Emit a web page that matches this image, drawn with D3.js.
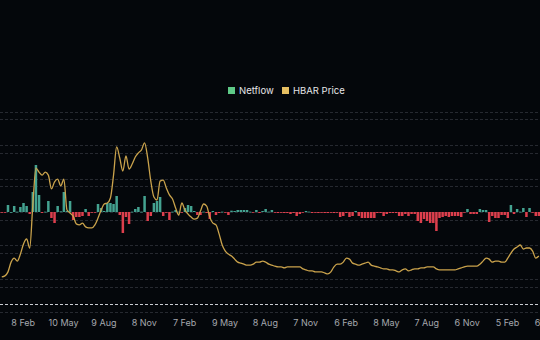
<!DOCTYPE html>
<html>
<head>
<meta charset="utf-8">
<script src="https://cdn.jsdelivr.net/npm/d3@7"></script>
<style>
  html, body { margin: 0; padding: 0; background: #04070b; }
  svg { display: block; }
  text { font-family: Inter, "Noto Sans", sans-serif; }
</style>
</head>
<body>
<svg id="chart" width="540" height="340"></svg>
<script>
// weekly netflow (M HBAR), first week starting 2020-12-20
var firstWeek = "2020-12-20";
var netflow = [
  -2, -1, 21, 0, 18, 1, 15, 27, 18, -6,
  60, 141, 51, -3, 1, 33, -18, -33, 18, 2,
  60, 3, 33, -24, -15, -15, -12, 9, -12, -2,
  -2, 24, 12, 3, 27, 27, 24, 48, -9, -63,
  -15, -36, 1, 9, 15, 1, 48, -27, -12, 27,
  33, 45, -12, -1, -24, 1, 6, 1, -1, 12,
  21, 18, 3, -9, -9, 1, -3, -21, 3, -9,
  -3, 1, -1, -9, 4, 3, 6, 6, 6, 6,
  1, -1, 6, -3, 3, 9, 1, 6, -2, -3,
  -2, -3, -3, -6, -3, -12, -6, -1, 3, 1,
  -3, -2, -3, -2, -3, -3, -2, -3, -2, -15,
  -12, -3, -15, -12, 3, -12, -18, -18, -18, -18,
  -18, -3, -3, -12, -6, -3, -3, -3, -12, -12,
  -6, -12, -6, -6, -27, -33, -21, -27, -33, -33,
  -57, -18, -15, -12, -15, -12, -12, -12, -15, -1,
  9, -6, -6, -6, 9, 6, 6, -30, -12, -18,
  -18, -9, -9, -18, 21, -6, 9, 1, 12, -15,
  12, -1, -12, -12
];
// HBAR price (USD), same weeks
var price = [
  0.030, 0.033, 0.045, 0.074, 0.086, 0.077, 0.098, 0.128, 0.143, 0.116,
  0.244, 0.354, 0.342, 0.333, 0.342, 0.333, 0.292, 0.313, 0.321, 0.301,
  0.321, 0.229, 0.220, 0.211, 0.188, 0.185, 0.190, 0.179, 0.176, 0.176,
  0.185, 0.205, 0.229, 0.247, 0.250, 0.265, 0.333, 0.417, 0.384, 0.345,
  0.390, 0.351, 0.366, 0.387, 0.399, 0.408, 0.429, 0.384, 0.315, 0.268,
  0.259, 0.315, 0.318, 0.295, 0.274, 0.262, 0.235, 0.214, 0.250, 0.229,
  0.217, 0.208, 0.202, 0.205, 0.226, 0.247, 0.241, 0.208, 0.190, 0.185,
  0.158, 0.125, 0.107, 0.098, 0.092, 0.083, 0.074, 0.071, 0.068, 0.065,
  0.065, 0.068, 0.074, 0.074, 0.077, 0.074, 0.068, 0.065, 0.062, 0.060,
  0.060, 0.057, 0.060, 0.060, 0.060, 0.060, 0.060, 0.054, 0.051, 0.048,
  0.048, 0.045, 0.045, 0.045, 0.042, 0.039, 0.045, 0.060, 0.068, 0.068,
  0.074, 0.086, 0.083, 0.071, 0.068, 0.065, 0.068, 0.071, 0.074, 0.065,
  0.062, 0.060, 0.057, 0.054, 0.054, 0.051, 0.051, 0.048, 0.045, 0.051,
  0.054, 0.048, 0.051, 0.054, 0.054, 0.057, 0.057, 0.060, 0.060, 0.060,
  0.054, 0.051, 0.051, 0.051, 0.051, 0.051, 0.051, 0.054, 0.057, 0.060,
  0.062, 0.062, 0.062, 0.062, 0.068, 0.077, 0.086, 0.083, 0.074, 0.077,
  0.077, 0.074, 0.074, 0.086, 0.101, 0.113, 0.119, 0.125, 0.113, 0.116,
  0.116, 0.107, 0.086, 0.092
];
var tickDates = [
  "2021-02-08", "2021-05-10", "2021-08-09", "2021-11-08", "2022-02-07",
  "2022-05-09", "2022-08-08", "2022-11-07", "2023-02-06", "2023-05-08",
  "2023-08-07", "2023-11-06", "2024-02-05", "2024-05-06"
];
var netflowTicks = [-300, -200, -100, 0, 100, 200, 300];
var priceTicks = [0, 0.1, 0.2, 0.3, 0.4, 0.5];
var seriesNames = ["Netflow", "HBAR Price"];

var weeks = netflow.map((d, i) => d3.utcDay.offset(new Date(firstWeek), 7 * i));

var svg = d3.select("#chart");

var x = d3.scaleUtc()
    .domain([new Date("2021-02-08"), new Date("2024-02-05")])
    .range([22.7, 507]);
var yFlow = d3.scaleLinear().domain([-300, 300]).range([312, 112]);
var yPrice = d3.scaleLinear().domain([0, 0.5]).range([287, 119]);

// grid lines, one set per axis
svg.append("g").selectAll("line")
    .data(netflowTicks)
    .enter().append("line")
    .attr("x1", 0).attr("x2", 540)
    .attr("y1", d => Math.round(yFlow(d)) + 0.5)
    .attr("y2", d => Math.round(yFlow(d)) + 0.5)
    .attr("stroke", "#262930")
    .attr("stroke-dasharray", "3,2");
svg.append("g").selectAll("line")
    .data(priceTicks)
    .enter().append("line")
    .attr("x1", 0).attr("x2", 540)
    .attr("y1", d => Math.round(yPrice(d)) + 0.5)
    .attr("y2", d => Math.round(yPrice(d)) + 0.5)
    .attr("stroke", "#262930")
    .attr("stroke-dasharray", "3,2");

// x axis baseline (dashed, light)
svg.append("line")
    .attr("x1", 0).attr("x2", 540)
    .attr("y1", 304.5).attr("y2", 304.5)
    .attr("stroke", "#c9ccd2")
    .attr("stroke-dasharray", "3,2");

// netflow bars
var bw = x(d3.utcDay.offset(weeks[0], 7)) - x(weeks[0]) - 0.6;
svg.append("g").selectAll("rect")
    .data(netflow)
    .enter().append("rect")
    .attr("x", (d, i) => x(weeks[i]))
    .attr("width", bw)
    .attr("y", d => d >= 0 ? yFlow(d) : yFlow(0))
    .attr("height", d => Math.max(0.8, Math.abs(yFlow(d) - yFlow(0))))
    .attr("fill", d => d >= 0 ? "#44a391" : "#dd3f4d");

// price line
var line = d3.line()
    .x((d, i) => x(weeks[i]) + bw / 2)
    .y(d => yPrice(d))
    .curve(d3.curveMonotoneX);
svg.append("path")
    .datum(price)
    .attr("d", line)
    .attr("fill", "none")
    .attr("stroke", "#caa34c")
    .attr("stroke-width", 1.3);

// x axis labels
var xAxis = svg.append("g")
    .attr("transform", "translate(0,312)")
    .call(d3.axisBottom(x)
        .tickValues(tickDates.map(d => new Date(d)))
        .tickFormat(d3.utcFormat("%-d %b"))
        .tickSize(0)
        .tickPadding(8));
xAxis.select(".domain").remove();
xAxis.selectAll("text")
    .attr("fill", "#a4a7ae")
    .attr("font-size", 9)
    .style("font-family", "Inter, 'Noto Sans', sans-serif");

// legend
var legendColors = ["#5ec987", "#e6bf62"];
var legendX = [228, 282];
var legend = svg.append("g");
seriesNames.forEach((name, i) => {
    legend.append("rect")
        .attr("x", legendX[i]).attr("y", 87)
        .attr("width", 7).attr("height", 7)
        .attr("fill", legendColors[i]);
    legend.append("text")
        .attr("x", legendX[i] + 11).attr("y", 93.5)
        .attr("fill", "#e4e5e8")
        .attr("font-size", 9.5)
        .text(name);
});
</script>
</body>
</html>
